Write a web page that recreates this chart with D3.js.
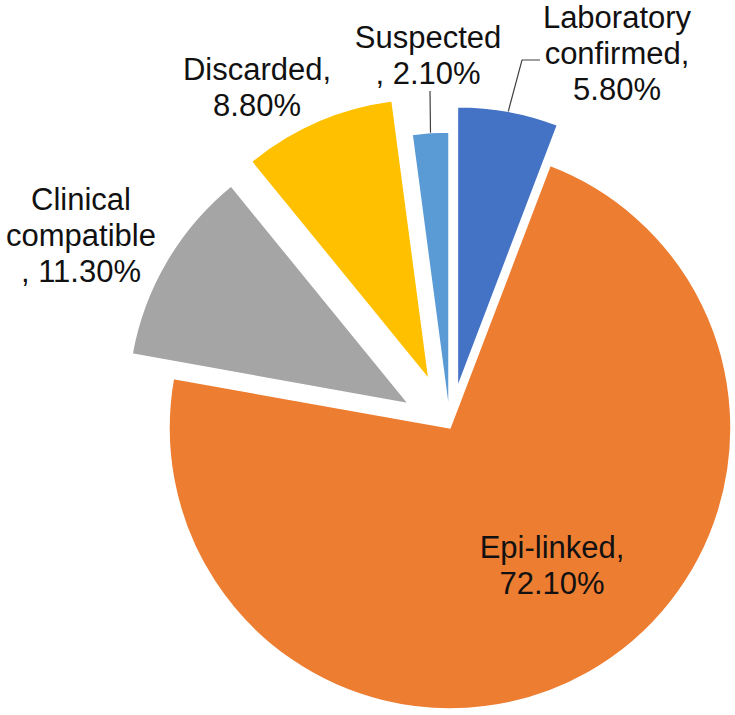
<!DOCTYPE html>
<html>
<head>
<meta charset="utf-8">
<script src="https://cdn.jsdelivr.net/npm/d3@7"></script>
<style>
  body { margin: 0; background: #fff; }
  svg { display: block; }
  .lbl { font-family: "Liberation Sans", Arial, sans-serif; font-size: 31px; fill: #111; }
</style>
</head>
<body>
<svg width="735" height="715"></svg>
<script>
// data
const categories = ['Laboratory confirmed', 'Epi-linked', 'Clinical compatible', 'Discarded', 'Suspected'];
const values = [5.8, 72.1, 11.3, 8.8, 2.1];
const colors = ['#4472C4', '#ED7D31', '#A5A5A5', '#FFC000', '#5B9BD5'];
// label text, one array of lines per slice
const labelLines = [
  ['Laboratory', 'confirmed,', '5.80%'],
  ['Epi-linked,', '72.10%'],
  ['Clinical', 'compatible', ', 11.30%'],
  ['Discarded,', '8.80%'],
  ['Suspected', ', 2.10%']
];

// layout
const cx = 450, cy = 428, radius = 281;
const explode = [41, 0, 48, 53, 15];
const labelPos = [
  {x: 617, y: 28}, {x: 552, y: 558}, {x: 81, y: 210}, {x: 257, y: 80}, {x: 428, y: 48}
];
const lineStep = 36;
// leader lines: slice index -> end points after leaving the arc
const leaders = [
  {i: 0, pts: [[522, 60], [540, 60]]},
  {i: 4, pts: [[430, 91]]}
];

const svg = d3.select('svg');

const pie = d3.pie().sort(null).value(d => d)(values);
const arc = d3.arc().innerRadius(0).outerRadius(radius);

const offset = (d, i) => {
  const a = (d.startAngle + d.endAngle) / 2;
  return [explode[i] * Math.sin(a), -explode[i] * Math.cos(a)];
};

const g = svg.append('g').attr('transform', `translate(${cx},${cy})`);

g.selectAll('path.slice')
  .data(pie)
  .enter().append('path')
    .attr('class', 'slice')
    .attr('d', arc)
    .attr('fill', (d, i) => colors[i])
    .attr('stroke', '#fff')
    .attr('stroke-width', 1.5)
    .attr('transform', (d, i) => `translate(${offset(d, i)})`);

// leader lines start on the outer arc at the slice's mid angle
leaders.forEach(l => {
  const d = pie[l.i];
  const a = (d.startAngle + d.endAngle) / 2;
  const o = offset(d, l.i);
  const start = [cx + o[0] + radius * Math.sin(a), cy + o[1] - radius * Math.cos(a)];
  svg.append('path')
    .attr('d', d3.line()([start, ...l.pts]))
    .attr('fill', 'none')
    .attr('stroke', '#404040')
    .attr('stroke-width', 1.2);
});

labelLines.forEach((lines, i) => {
  const t = svg.append('text')
    .attr('class', 'lbl')
    .attr('text-anchor', 'middle');
  lines.forEach((s, k) => {
    t.append('tspan')
      .attr('x', labelPos[i].x)
      .attr('y', labelPos[i].y + k * lineStep)
      .text(s);
  });
});
</script>
</body>
</html>
